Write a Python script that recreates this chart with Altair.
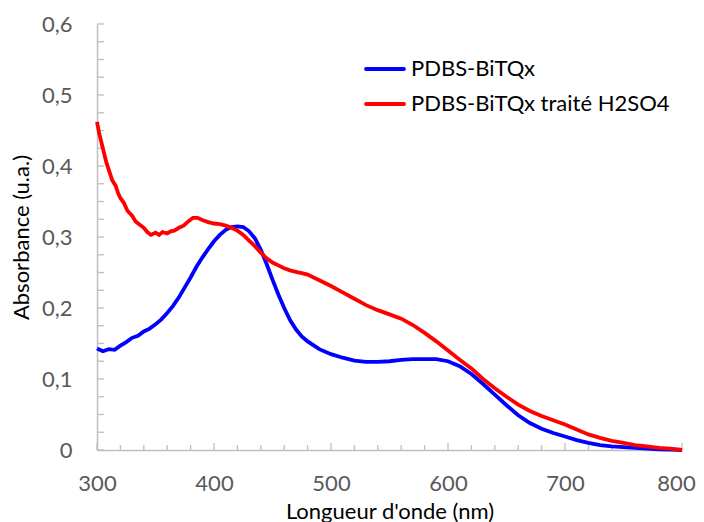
import altair as alt
import pandas as pd

# ---- data ----
series = ["PDBS-BiTQx", "PDBS-BiTQx traité H2SO4"]
colors = ["#0000FF", "#FF0000"]

wl_blue = [300, 305, 310, 315, 320, 325, 330, 335, 340, 345, 350, 355, 360, 365, 370,
           375, 380, 385, 390, 395, 400, 405, 410, 415, 420, 425, 430, 435, 440, 445,
           450, 455, 460, 465, 470, 475, 480, 490, 500, 510, 520, 530, 540, 550, 560,
           570, 580, 590, 600, 610, 620, 630, 640, 650, 660, 670, 680, 690, 700, 710,
           720, 730, 740, 750, 760, 770, 780, 790, 800]
abs_blue = [0.143, 0.139, 0.142, 0.141, 0.147, 0.152, 0.158, 0.161, 0.167, 0.171, 0.177,
            0.184, 0.193, 0.203, 0.215, 0.229, 0.243, 0.258, 0.271, 0.283, 0.294, 0.303,
            0.310, 0.314, 0.315, 0.314, 0.308, 0.298, 0.282, 0.262, 0.240, 0.219, 0.200,
            0.183, 0.170, 0.160, 0.153, 0.142, 0.135, 0.130, 0.126, 0.124, 0.124, 0.125,
            0.127, 0.128, 0.128, 0.128, 0.125, 0.118, 0.107, 0.093, 0.078, 0.063, 0.049,
            0.038, 0.030, 0.024, 0.019, 0.014, 0.010, 0.007, 0.005, 0.004, 0.003, 0.002,
            0.001, 0.0005, 0.0]

wl_red = [300, 302, 305, 308, 310, 313, 316, 318, 320, 323, 326, 330, 333, 336, 340,
          343, 346, 350, 353, 356, 360, 363, 366, 370, 374, 378, 382, 386, 390, 395,
          400, 405, 410, 415, 420, 425, 430, 435, 440, 445, 450, 455, 460, 465, 470,
          475, 480, 490, 500, 510, 520, 530, 540, 550, 560, 570, 580, 590, 600, 610,
          620, 630, 640, 650, 660, 670, 680, 690, 700, 710, 720, 730, 740, 750, 760,
          770, 780, 790, 800]
abs_red = [0.462, 0.445, 0.425, 0.405, 0.395, 0.380, 0.372, 0.362, 0.355, 0.348, 0.337,
           0.330, 0.322, 0.318, 0.313, 0.307, 0.303, 0.306, 0.303, 0.307, 0.305, 0.308,
           0.309, 0.313, 0.316, 0.322, 0.327, 0.327, 0.324, 0.321, 0.319, 0.318, 0.316,
           0.313, 0.309, 0.303, 0.295, 0.287, 0.278, 0.270, 0.264, 0.260, 0.256, 0.253,
           0.251, 0.249, 0.247, 0.239, 0.231, 0.222, 0.213, 0.204, 0.197, 0.191, 0.185,
           0.176, 0.165, 0.153, 0.140, 0.127, 0.115, 0.100, 0.087, 0.075, 0.064, 0.055,
           0.048, 0.042, 0.036, 0.029, 0.022, 0.017, 0.013, 0.010, 0.007, 0.005, 0.003,
           0.002, 0.0]

x_label_values = [300, 400, 500, 600, 700, 800]
y_label_values = [0, 0.1, 0.2, 0.3, 0.4, 0.5, 0.6]
x_minor_ticks = list(range(300, 801, 20))
y_minor_ticks = [round(i * 0.025, 3) for i in range(25)]

# ---- layout ----
W, H = 585, 426
FONT = "Lato"
AXIS_GREY = "#BFBFBF"
LABEL_GREY = "#595959"

xs = alt.Scale(domain=[300, 800], nice=False, zero=False)
ys = alt.Scale(domain=[0, 0.6], nice=False, zero=False)

xaxis = alt.Axis(values=x_label_values, format="d", title="Longueur d'onde (nm)",
                 grid=False, ticks=False, tickSize=0, domainColor=AXIS_GREY,
                 domainWidth=1.5, labelFont=FONT, labelFontSize=22,
                 labelColor=LABEL_GREY, labelPadding=23, labelFlush=False,
                 labelOverlap=False,
                 labelOffset={"condition": {"test": "datum.value == 800", "value": -6},
                              "value": 0},
                 titleFont=FONT, titleFontSize=22,
                 titleColor="black", titleFontWeight="normal", titleX=W / 2,
                 titleY=68, titleBaseline="alphabetic")
yaxis = alt.Axis(values=y_label_values, title="Absorbance (u.a.)",
                 labelExpr="datum.value == 0 ? '0' : replace(format(datum.value, '.1f'), '.', ',')",
                 grid=False, ticks=False, tickSize=0, domainColor=AXIS_GREY,
                 domainWidth=1.5, labelFont=FONT, labelFontSize=22,
                 labelColor=LABEL_GREY, labelPadding=25, labelFlush=False,
                 labelOverlap=False, titleFont=FONT, titleFontSize=22,
                 titleColor="black", titleFontWeight="normal", titleX=-76,
                 titleY=H / 2, titleBaseline="middle", titleAngle=270)

df_blue = pd.DataFrame({"wl": wl_blue, "a": abs_blue})
df_red = pd.DataFrame({"wl": wl_red, "a": abs_red})

line_blue = alt.Chart(df_blue).mark_line(color=colors[0], strokeWidth=3.8).encode(
    x=alt.X("wl:Q", scale=xs, axis=xaxis),
    y=alt.Y("a:Q", scale=ys, axis=yaxis),
)
line_red = alt.Chart(df_red).mark_line(color=colors[1], strokeWidth=3.8).encode(
    x=alt.X("wl:Q", scale=xs, axis=xaxis),
    y=alt.Y("a:Q", scale=ys, axis=yaxis),
)

xt = pd.DataFrame({"v": x_minor_ticks})
xt["major"] = xt["v"] % 100 == 0
yt = pd.DataFrame({"v": y_minor_ticks})

xticks_minor = alt.Chart(xt[~xt["major"]]).mark_rule(color=AXIS_GREY, strokeWidth=1.3).encode(
    x=alt.X("v:Q", scale=xs, axis=xaxis), y=alt.value(H), y2=alt.value(H - 5))
xticks_major = alt.Chart(xt[xt["major"]]).mark_rule(color=AXIS_GREY, strokeWidth=1.3).encode(
    x=alt.X("v:Q", scale=xs, axis=xaxis), y=alt.value(H), y2=alt.value(H - 7))
yticks = alt.Chart(yt).mark_rule(color=AXIS_GREY, strokeWidth=1.3).encode(
    y=alt.Y("v:Q", scale=ys, axis=yaxis), x=alt.value(0), x2=alt.value(7))

one = pd.DataFrame({"k": [0]})
legend_rows = [45, 80]
legend_layers = []
for name, col, yy in zip(series, colors, legend_rows):
    legend_layers.append(
        alt.Chart(one).mark_rule(color=col, strokeWidth=3.8, strokeCap="round").encode(
            x=alt.value(269), x2=alt.value(307), y=alt.value(yy)))
    legend_layers.append(
        alt.Chart(one).mark_text(align="left", baseline="middle", font=FONT,
                                 fontSize=22, color="black").encode(
            x=alt.value(314), y=alt.value(yy), text=alt.value(name)))

chart = alt.layer(xticks_minor, xticks_major, yticks, line_blue, line_red,
                  *legend_layers).properties(
    width=W, height=H,
    autosize=alt.AutoSizeParams(type="none"),
    padding={"left": 89, "top": 16, "right": 14, "bottom": 78},
    background="white",
).configure_view(stroke=None)

chart.save("out.html", embed_options={"renderer": "svg", "actions": False})
